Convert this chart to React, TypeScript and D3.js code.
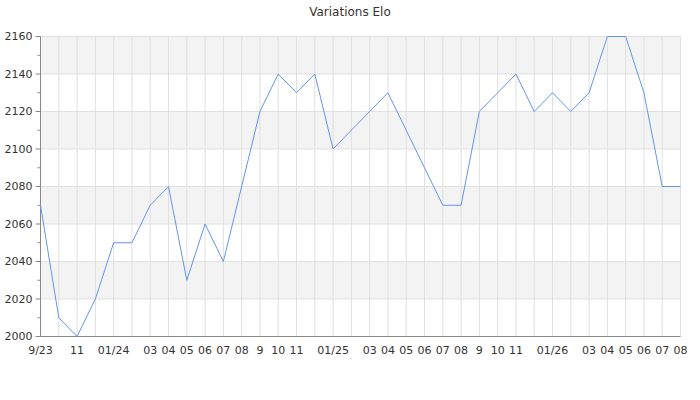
import React from "react";
import * as d3 from "d3";

const title = "Variations Elo";
const monthLabels = [
  "9/23", "", "11", "", "01/24", "", "03", "04", "05", "06", "07", "08",
  "9", "10", "11", "", "01/25", "", "03", "04", "05", "06", "07", "08",
  "9", "10", "11", "", "01/26", "", "03", "04", "05", "06", "07", "08",
];
const eloValues = [
  2070, 2010, 2000, 2020, 2050, 2050, 2070, 2080, 2030, 2060, 2040, 2080,
  2120, 2140, 2130, 2140, 2100, 2110, 2120, 2130, 2110, 2090, 2070, 2070,
  2120, 2130, 2140, 2120, 2130, 2120, 2130, 2160, 2160, 2130, 2080, 2080,
];
const yMajorTicks = [2000, 2020, 2040, 2060, 2080, 2100, 2120, 2140, 2160];
const yMinorTicks = [2010, 2030, 2050, 2070, 2090, 2110, 2130, 2150];

const W = 700;
const H = 400;
const left = 40.5;
const right = 680.5;
const top = 36.5;
const bottom = 336.5;
const font = "'DejaVu Sans', sans-serif";

export default function App() {
  const x = d3.scaleLinear().domain([0, eloValues.length - 1]).range([left, right]);
  const y = d3.scaleLinear().domain([2000, 2160]).range([bottom, top]);
  const line = d3
    .line<number>()
    .x((_, i) => x(i))
    .y((d) => y(d));

  const bands = yMajorTicks.slice(0, -1).map((v, i) => ({ lo: v, hi: yMajorTicks[i + 1], i }));

  return (
    <svg
      width={W}
      height={H}
      style={{ position: "absolute", left: 0, top: 0, display: "block" }}
      fontFamily={font}
    >
      <rect x={0} y={0} width={W} height={H} fill="#fff" />
      {bands
        .filter((b) => b.i % 2 === 1)
        .map((b) => (
          <rect
            key={b.lo}
            x={left}
            y={y(b.hi)}
            width={right - left}
            height={y(b.lo) - y(b.hi)}
            fill="#f3f3f3"
          />
        ))}
      {monthLabels.map((_, i) => (
        <line key={"vg" + i} x1={x(i)} x2={x(i)} y1={top} y2={bottom} stroke="#e0e0e0" strokeWidth={1} />
      ))}
      {yMajorTicks.map((v) => (
        <line key={"hg" + v} x1={left} x2={right} y1={y(v)} y2={y(v)} stroke="#e0e0e0" strokeWidth={1} />
      ))}
      {/* axes */}
      <line x1={left} x2={left} y1={top} y2={bottom} stroke="#888" strokeWidth={1} />
      <line x1={left} x2={right} y1={bottom} y2={bottom} stroke="#888" strokeWidth={1} />
      {yMajorTicks.map((v) => (
        <g key={"yt" + v}>
          <line x1={left - 5} x2={left} y1={y(v)} y2={y(v)} stroke="#888" />
          <text x={left - 8} y={y(v)} dy="0.35em" textAnchor="end" fontSize={11} fill="#333">
            {v}
          </text>
        </g>
      ))}
      {yMinorTicks.map((v) => (
        <line key={"ym" + v} x1={left - 3} x2={left} y1={y(v)} y2={y(v)} stroke="#888" />
      ))}
      {monthLabels.map((lab, i) =>
        lab ? (
          <text key={"xl" + i} x={x(i)} y={bottom + 17} textAnchor="middle" fontSize={11} fill="#333">
            {lab}
          </text>
        ) : null
      )}
      <path d={line(eloValues) || ""} fill="none" stroke="#6495ed" strokeWidth={1} />
      <text x={350} y={16} textAnchor="middle" fontSize={12} fill="#333">
        {title}
      </text>
    </svg>
  );
}
